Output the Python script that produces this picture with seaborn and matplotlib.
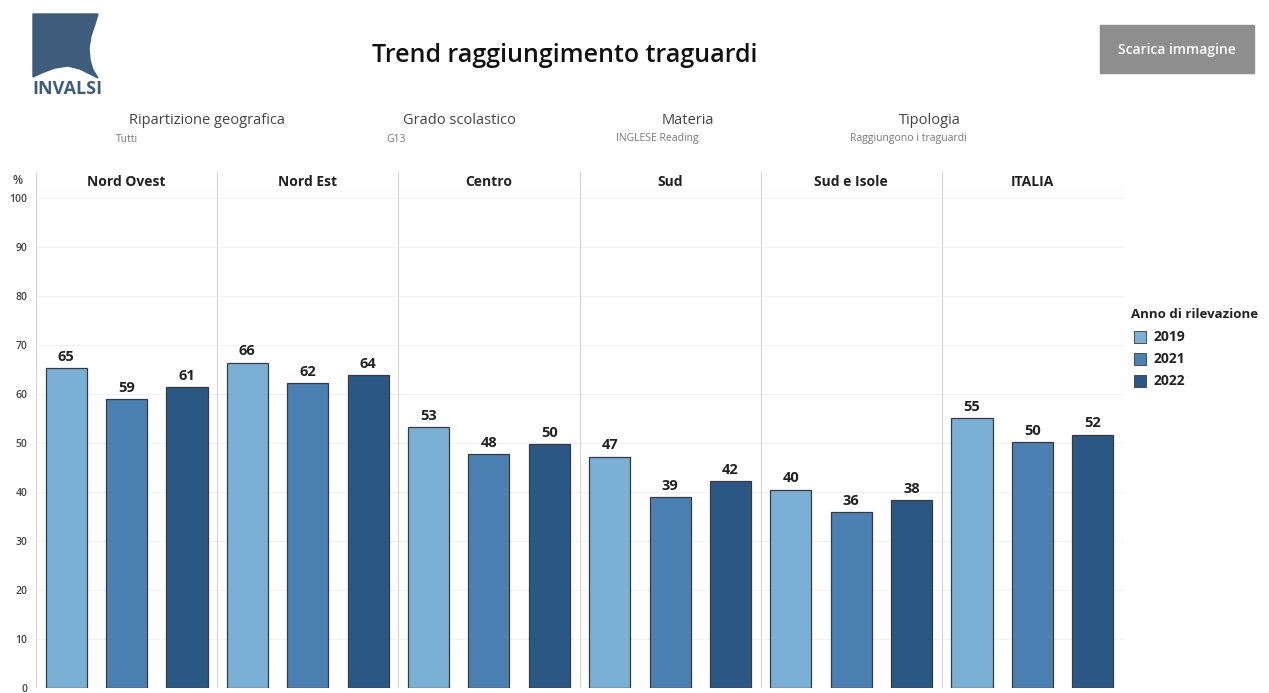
"""
Trend raggiungimento traguardi - INVALSI, G13 INGLESE Reading
"""
import numpy as np
import pandas as pd
import seaborn as sns
import matplotlib.pyplot as plt
from matplotlib.patches import Polygon, Rectangle

regions = ["Nord Ovest", "Nord Est", "Centro", "Sud", "Sud e Isole", "ITALIA"]
years = ["2019", "2021", "2022"]
v2019 = [65.2, 66.4, 53.2, 47.2, 40.5, 55.0]
v2021 = [58.9, 62.2, 47.8, 38.9, 35.9, 50.1]
v2022 = [61.4, 63.9, 49.7, 42.2, 38.3, 51.7]
colours = ["#7aafd6", "#4b80b3", "#2a5783"]

filters = [("Ripartizione geografica", "Tutti"), ("Grado scolastico", "G13"),
           ("Materia", "INGLESE Reading"), ("Tipologia", "Raggiungono i traguardi")]

sns.set_theme(style="white")
plt.rcParams['font.family'] = ['Open Sans', 'DejaVu Sans']

df = pd.DataFrame({
    "regione": regions * 3,
    "anno": [y for y in years for _ in regions],
    "valore": v2019 + v2021 + v2022,
})

W, H = 1269, 693
fig = plt.figure(figsize=(W / 100, H / 100), dpi=100)

def px(x0, y0, x1, y1):
    # pixel box -> figure fraction
    return [x0 / W, 1 - y1 / H, (x1 - x0) / W, (y1 - y0) / H]

ax = fig.add_axes(px(36, 192, 1123, 688))
sns.barplot(data=df, x="regione", y="valore", hue="anno", order=regions,
            hue_order=years, palette=colours, saturation=1, width=1.0, gap=0.32,
            edgecolor="#3a3a3a", linewidth=0.9, legend=False, ax=ax)
ax.set_xlim(-0.5, len(regions) - 0.5)
ax.set_ylim(0, 101.2)
ax.set_yticks(np.arange(0, 101, 10))
ax.tick_params(axis="y", labelsize=7.5, colors="#444444", length=0, pad=6)
for t in ax.get_yticklabels():
    t.set_fontweight("semibold")
ax.set_xticks([])
ax.set_xlabel("")
ax.set_ylabel("")
for s in ax.spines.values():
    s.set_visible(False)
for y in np.arange(10, 101, 10):
    ax.axhline(y, color="#f1f1f1", lw=0.8, zorder=0)
for xb in np.arange(-0.5, len(regions), 1.0):
    ax.axvline(xb, color="#d4d4d4", lw=0.8, zorder=0)
for c in ax.containers:
    ax.bar_label(c, fmt="%.0f", padding=3, fontsize=10.5, fontweight="bold",
                 color="#222222")

# panel header
hx = fig.add_axes(px(36, 172, 1123, 192))
hx.set_xlim(-0.5, len(regions) - 0.5)
hx.set_ylim(0, 1)
hx.axis("off")
for i, r in enumerate(regions):
    hx.text(i, 0.5, r, ha="center", va="center", fontsize=10,
            fontweight="bold", color="#222222")
for xb in np.arange(-0.5, len(regions), 1.0):
    hx.axvline(xb, color="#d4d4d4", lw=0.8)
hx.axhline(0, color="#cccccc", lw=0.8)
fig.text(18 / W, 1 - 181 / H, "%", ha="center", va="center", fontsize=8.5,
         color="#444444", fontweight="semibold")

# title and button
fig.text(565 / W, 1 - 55 / H, "Trend raggiungimento traguardi", ha="center",
         va="center", fontsize=18, fontweight="semibold", color="#111111")
fig.patches.append(Rectangle((1100 / W, 1 - 73 / H), 154 / W, 48 / H,
                             transform=fig.transFigure, color="#8e8e8e"))
fig.text(1177 / W, 1 - 50 / H, "Scarica immagine", ha="center", va="center",
         fontsize=10, fontweight="semibold", color="white")

# logo
logo = [(33, 14), (98, 14), (95, 24), (91, 36), (89, 48), (90, 60), (93, 70),
        (98, 78), (90, 74), (80, 69), (68, 66), (55, 68), (44, 72), (33, 77)]
fig.patches.append(Polygon([(x / W, 1 - y / H) for x, y in logo], closed=True,
                           transform=fig.transFigure, color="#3e5c7c"))
fig.text(67 / W, 1 - 89 / H, "INVALSI", ha="center", va="center", fontsize=13,
         fontweight="bold", color="#3e5c7c")

# filters
fx = [(207, 127), (459, 396), (688, 657), (930, 908)]
for (name, val), (cx, vx) in zip(filters, fx):
    fig.text(cx / W, 1 - 120 / H, name, ha="center", va="center", fontsize=10.5,
             color="#444444")
    fig.text(vx / W, 1 - 139 / H, val, ha="center", va="center", fontsize=7.5,
             color="#777777")

# legend
fig.text(1131 / W, 1 - 314 / H, "Anno di rilevazione", ha="left", va="center",
         fontsize=9.5, fontweight="bold", color="#222222")
for k, (yr, col) in enumerate(zip(years, colours)):
    yy = 337 + 22 * k
    fig.patches.append(Rectangle((1134 / W, 1 - (yy + 6) / H), 12 / W, 12 / H,
                                 transform=fig.transFigure, facecolor=col,
                                 edgecolor="#3a3a3a", lw=0.6))
    fig.text(1154 / W, 1 - yy / H, yr, ha="left", va="center", fontsize=10,
             fontweight="bold", color="#222222")

fig.savefig("out.png", dpi=100)
